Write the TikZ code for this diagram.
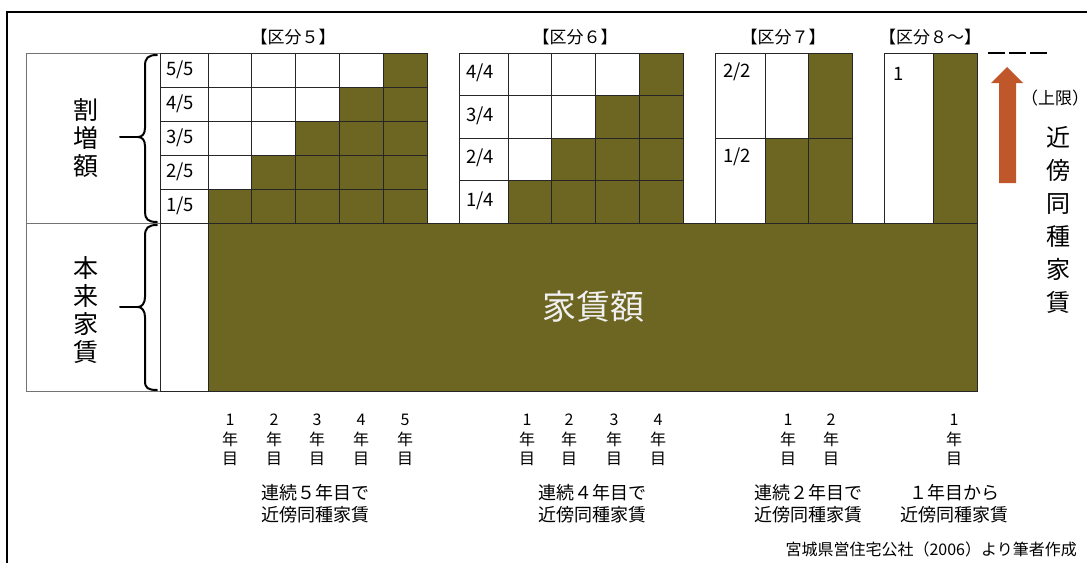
\documentclass[tikz,border=0pt]{standalone}
\usepackage{fontspec}
\setmainfont{Noto Sans CJK JP}
\definecolor{olive}{RGB}{109,101,34}
\definecolor{arrowc}{RGB}{192,87,43}
\definecolor{lightt}{RGB}{240,240,240}
\begin{document}
\begin{tikzpicture}[x=1pt,y=-1pt,
  cell/.style={draw=black!85,line width=0.8pt},
  outerbox/.style={draw=black!55,line width=1pt},
  dk/.style={cell,fill=olive},
  wt/.style={cell,fill=white},
  secl/.style={font=\fontsize{17}{20}\selectfont,inner sep=0pt},
  frac/.style={font=\fontsize{18.5}{21}\selectfont,anchor=west,inner sep=0pt},
  yr/.style={font=\fontsize{16}{19.5}\selectfont,align=center,inner sep=0pt},
  capt/.style={font=\fontsize{18}{22}\selectfont,align=center,inner sep=0pt},
  vlab/.style={font=\fontsize{25}{28}\selectfont,align=center,inner sep=0pt},
  bracep/.style={line width=2pt,line cap=round}]
\useasboundingbox (0,0) rectangle (1087,563);
% frame
\draw[line width=1.3pt] (7,563) -- (7,12) -- (1087,12);
% left boxes
\draw[outerbox,fill=white] (26,53) rectangle (160,223);
\draw[outerbox,fill=white] (26,223) rectangle (160,391);
\node[vlab] (zou) at (86,138) {割\\増\\額};
\node[vlab] (honrai) at (86,310) {本\\来\\家\\賃};
% braces
\draw[bracep] (157,55) .. controls (148,55) and (145,58) .. (145,66) -- (145,128) .. controls (145,134) and (142,137) .. (138,137) .. controls (142,137) and (145,140) .. (145,146) -- (145,212) .. controls (145,219) and (148,222) .. (157,222);
\draw[bracep] (120,137) -- (138,137);
\draw[bracep] (157,225) .. controls (148,225) and (145,228) .. (145,236) -- (145,297) .. controls (145,303) and (142,307) .. (138,307) .. controls (142,307) and (145,311) .. (145,317) -- (145,381) .. controls (145,388) and (148,390) .. (157,390);
\draw[bracep] (120,307) -- (138,307);
% base rent
\draw[cell,fill=white] (160,223) rectangle (208,391);
\draw[cell,fill=olive] (208,223) rectangle (977,391);
\node[font=\fontsize{34}{40}\selectfont,text=lightt] (yachin) at (593,307) {家賃額};
% section 5
\node[secl] (s5) at (293,37) {【区分５】};
\foreach \i in {1,...,5}{
  \pgfmathsetmacro\yt{53+34*(5-\i)}
  \draw[cell,fill=white] (160,\yt) rectangle (208,\yt+34);
  \node[frac] (fa\i) at (166,\yt+17) {\i/5};
  \foreach \j in {1,...,5}{
    \pgfmathsetmacro\xl{208+43.8*(\j-1)}
    \pgfmathtruncatemacro\isd{\j>=\i}
    \ifnum\isd=1 \draw[dk] (\xl,\yt) rectangle (\xl+43.8,\yt+34);
    \else \draw[wt] (\xl,\yt) rectangle (\xl+43.8,\yt+34); \fi
  }
}
% section 6
\node[secl] (s6) at (575,37) {【区分６】};
\foreach \i in {1,...,4}{
  \pgfmathsetmacro\yt{53+42.5*(4-\i)}
  \draw[cell,fill=white] (459,\yt) rectangle (508,\yt+42.5);
  \node[frac] (fb\i) at (466,\yt+20) {\i/4};
  \foreach \j in {1,...,4}{
    \pgfmathsetmacro\xl{508+43.75*(\j-1)}
    \pgfmathtruncatemacro\isd{\j>=\i}
    \ifnum\isd=1 \draw[dk] (\xl,\yt) rectangle (\xl+43.75,\yt+42.5);
    \else \draw[wt] (\xl,\yt) rectangle (\xl+43.75,\yt+42.5); \fi
  }
}
% section 7
\node[secl] (s7) at (783,37) {【区分７】};
\draw[cell,fill=white] (715,53) rectangle (765,138);
\draw[cell,fill=white] (715,138) rectangle (765,223);
\node[frac] (fc2) at (723,72) {2/2};
\node[frac] (fc1) at (723,157) {1/2};
\draw[wt] (765,53) rectangle (808,138);
\draw[dk] (808,53) rectangle (852,138);
\draw[dk] (765,138) rectangle (808,223);
\draw[dk] (808,138) rectangle (852,223);
% section 8
\node[secl] (s8) at (930,37) {【区分８～】};
\draw[cell,fill=white] (884,53) rectangle (933,223);
\draw[dk] (933,53) rectangle (977,223);
\node[frac] (fd1) at (893,74) {1};
% upper limit
\draw[line width=1.3pt,dash pattern=on 17pt off 4pt] (988,53) -- (1050,53);
\fill[arrowc] (999,183) -- (999,83) -- (991,83) -- (1007,67) -- (1023,83) -- (1016,83) -- (1016,183) -- cycle;
\node[font=\fontsize{17}{20}\selectfont,inner sep=0pt] (jougen) at (1055,98) {（上限）};
\node[font=\fontsize{24}{33}\selectfont,align=center,inner sep=0pt] (kinbo) at (1058,220) {近\\傍\\同\\種\\家\\賃};
% years
\foreach \k/\x in {1/230,2/274,3/317,4/361,5/405}{
  \node[yr] (ya\k) at (\x,440) {\k\\年\\目};
}
\foreach \k/\x in {1/527,2/569,3/614,4/658}{
  \node[yr] (yb\k) at (\x,440) {\k\\年\\目};
}
\foreach \k/\x in {1/788,2/831}{
  \node[yr] (yc\k) at (\x,440) {\k\\年\\目};
}
\node[yr] (yd1) at (954,440) {1\\年\\目};
% captions
\node[capt] (ca) at (315,504) {連続５年目で\\近傍同種家賃};
\node[capt] (cb) at (592,504) {連続４年目で\\近傍同種家賃};
\node[capt] (cc) at (808,504) {連続２年目で\\近傍同種家賃};
\node[capt] (cd) at (954,504) {１年目から\\近傍同種家賃};
\node[font=\fontsize{16}{19}\selectfont,anchor=east,inner sep=0pt] (src) at (1077,549) {宮城県営住宅公社（2006）より筆者作成};
\end{tikzpicture}
\end{document}
